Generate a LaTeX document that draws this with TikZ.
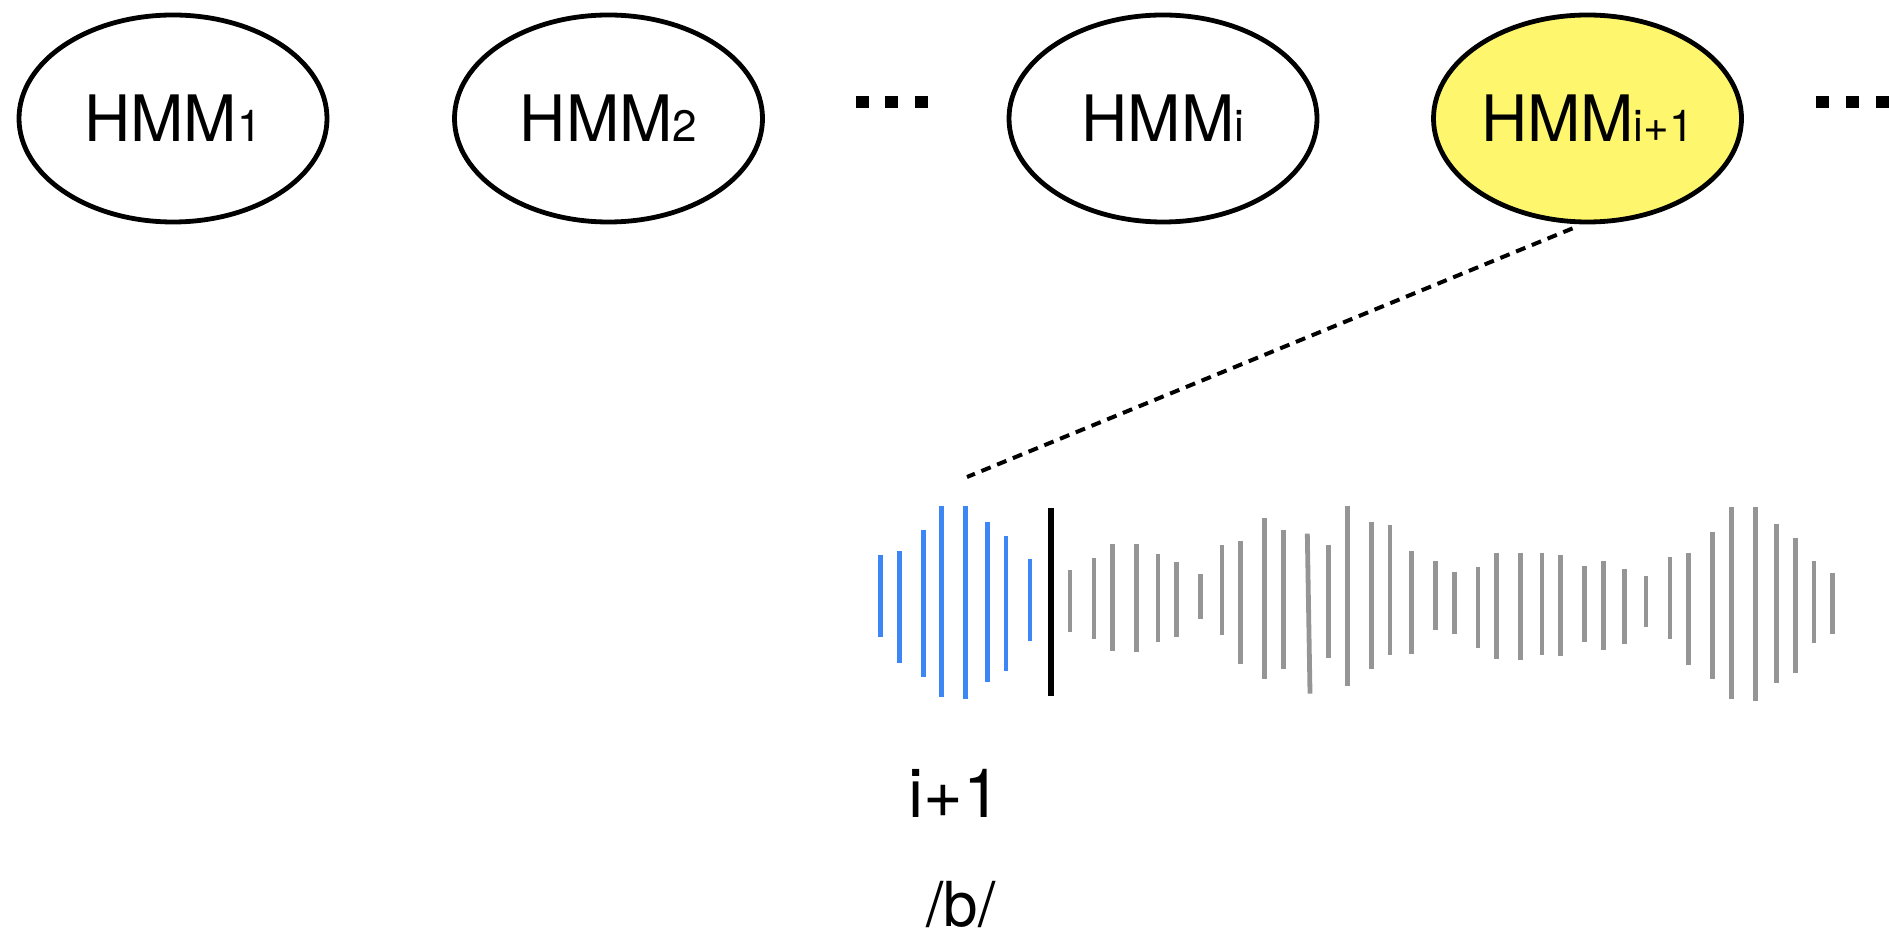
\documentclass[tikz,border=0pt]{standalone}
\usepackage{fontspec}
\setmainfont{TeX Gyre Heros}
\usetikzlibrary{shapes.geometric}
\definecolor{hmmyellow}{HTML}{FEF76E}
\definecolor{wblue}{HTML}{3D86F6}
\definecolor{wgray}{HTML}{959595}
\tikzset{
  hmm/.style={ellipse, draw=black, line width=2.4pt, minimum width=154pt, minimum height=103.5pt, inner sep=0pt, font=\fontsize{32}{36}\selectfont},
  bluebar/.style={draw=wblue, line width=2.4pt},
  graybar/.style={draw=wgray, line width=2.4pt},
  blackbar/.style={draw=black, line width=2.8pt},
  dotsq/.style={fill=black},
  zoomline/.style={draw=black, line width=2pt, dash pattern=on 5pt off 3.5pt},
  lbl/.style={anchor=base, inner sep=0pt}
}
\newcommand{\sm}[1]{{\fontsize{22}{24}\selectfont #1}}
\begin{document}
\begin{tikzpicture}[x=0.5pt, y=-0.5pt]
\useasboundingbox (0,0) rectangle (1889,940);
\clip (0,0) rectangle (1889,940);
% HMM nodes
\node[hmm] (h1) at (173,118.5) {HMM\sm{1}};
\node[hmm] (h2) at (608.5,118.5) {HMM\sm{2}};
\node[hmm] (hi) at (1163,118.5) {HMM\sm{i}};
\node[hmm, fill=hmmyellow] (hip) at (1587.5,118.5) {HMM\sm{i+1}};
% ellipsis dots
\foreach \cx in {862,891.5,921.5,1822,1852,1882}{
  \fill[dotsq] (\cx-6.5,96) rectangle (\cx+6.5,108);
}
% waveform
\foreach \x/\a/\b in {880.7/555/636.7, 899.3/551/662.7, 923.3/530/676.7, 941.7/505.7/697.3, 965.7/505.7/699.3, 987.3/522.3/682.3, 1006/536/671, 1030/559/640.7}{
  \draw[bluebar] (\x,\a) -- (\x,\b);
}
\draw[blackbar] (1051,508.3) -- (1051,696.3);
\foreach \x/\a/\b in {1070/570/631.7, 1094/558.3/639.3, 1112.7/544.3/650.7, 1136.7/544.3/651.7, 1158/553.7/642.3, 1176.7/561.7/636.7, 1200.7/574.3/619.3, 1222/545.3/635.3, 1240.7/541/664, 1264.7/518/679, 1283.3/530.3/669, 1328.7/544.7/658.3, 1347.3/505.7/685.7, 1371.3/522/668.5, 1390/525/655, 1411.3/551.3/654.3, 1435.3/561/629.7, 1454.3/572/634, 1478/566.7/647.7, 1496.7/552.7/658.7, 1520.7/552.7/660, 1542/552.7/654.7, 1560.7/555.3/655.7, 1584.7/565.7/642.3, 1603.3/561/649.7, 1624.7/569.3/644, 1646/576/627, 1670/557/638.7, 1688.7/552.7/664.7, 1712.7/532.3/678.7, 1731.3/507.3/698.7, 1755.3/507.3/700.7, 1776.7/524/683.3, 1795.3/538.3/673, 1814/561/642.7, 1832.7/573.3/634}{
  \draw[graybar] (\x,\a) -- (\x,\b);
}
\draw[graybar] (1307.3,533.7) -- (1310,693.7);
% zoom connector
\coordinate (wavestart) at (967,477);
\draw[zoomline] ([xshift=-7.5pt,yshift=-2pt]hip.south) -- (wavestart);
% labels
\node[lbl, font=\fontsize{34}{38}\selectfont] (idx) at (955,817) {i+1};
\node[lbl, font=\fontsize{31}{36}\selectfont] (phone) at (961,926) {/b/};
\end{tikzpicture}
\end{document}
